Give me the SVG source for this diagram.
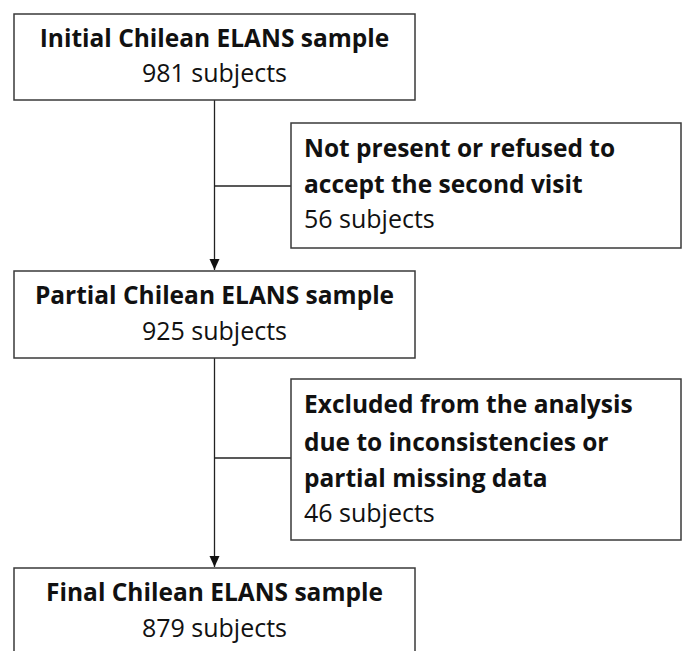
<svg xmlns="http://www.w3.org/2000/svg" width="683" height="651" viewBox="0 0 683 651">
<style>
.box{fill:#fff;stroke:#3a3a3a;stroke-width:1.5}
.t{font-family:"Open Sans","Noto Sans","Liberation Sans",sans-serif;font-size:25px;fill:#111}
.b{font-weight:bold;font-size:24.5px}
.c{text-anchor:middle}
.ln{fill:none;stroke:#222;stroke-width:1.3}
</style>
<defs>
<marker id="ah" markerUnits="userSpaceOnUse" markerWidth="12" markerHeight="12" viewBox="0 0 12 12" refX="11" refY="6" orient="auto">
<path d="M0,1 L11,6 L0,11 Z" fill="#111"/>
</marker>
</defs>
<rect width="683" height="651" fill="#fff"/>
<g id="connectors">
<line class="ln" x1="214.5" y1="100" x2="214.5" y2="270" marker-end="url(#ah)"/>
<line class="ln" x1="214.5" y1="186" x2="291" y2="186"/>
<line class="ln" x1="214.5" y1="358" x2="214.5" y2="567" marker-end="url(#ah)"/>
<line class="ln" x1="214.5" y1="458" x2="291" y2="458"/>
</g>
<g id="initial">
<rect class="box" x="14" y="14" width="401" height="86"/>
<text class="t b c" x="214.5" y="47">Initial Chilean ELANS sample</text>
<text class="t c" x="214.5" y="82">981 subjects</text>
</g>
<g id="notpresent">
<rect class="box" x="291" y="123" width="390" height="125"/>
<text class="t b" x="304" y="157">Not present or refused to</text>
<text class="t b" x="304" y="193">accept the second visit</text>
<text class="t" x="304" y="228">56 subjects</text>
</g>
<g id="partial">
<rect class="box" x="14" y="271" width="401" height="87"/>
<text class="t b c" x="214.5" y="304">Partial Chilean ELANS sample</text>
<text class="t c" x="214.5" y="340">925 subjects</text>
</g>
<g id="excluded">
<rect class="box" x="291" y="379" width="390" height="161"/>
<text class="t b" x="304" y="413">Excluded from the analysis</text>
<text class="t b" x="304" y="451">due to inconsistencies or</text>
<text class="t b" x="304" y="487">partial missing data</text>
<text class="t" x="304" y="522">46 subjects</text>
</g>
<g id="final">
<rect class="box" x="14" y="568" width="401" height="100"/>
<text class="t b c" x="214.5" y="601">Final Chilean ELANS sample</text>
<text class="t c" x="214.5" y="637">879 subjects</text>
</g>
</svg>
